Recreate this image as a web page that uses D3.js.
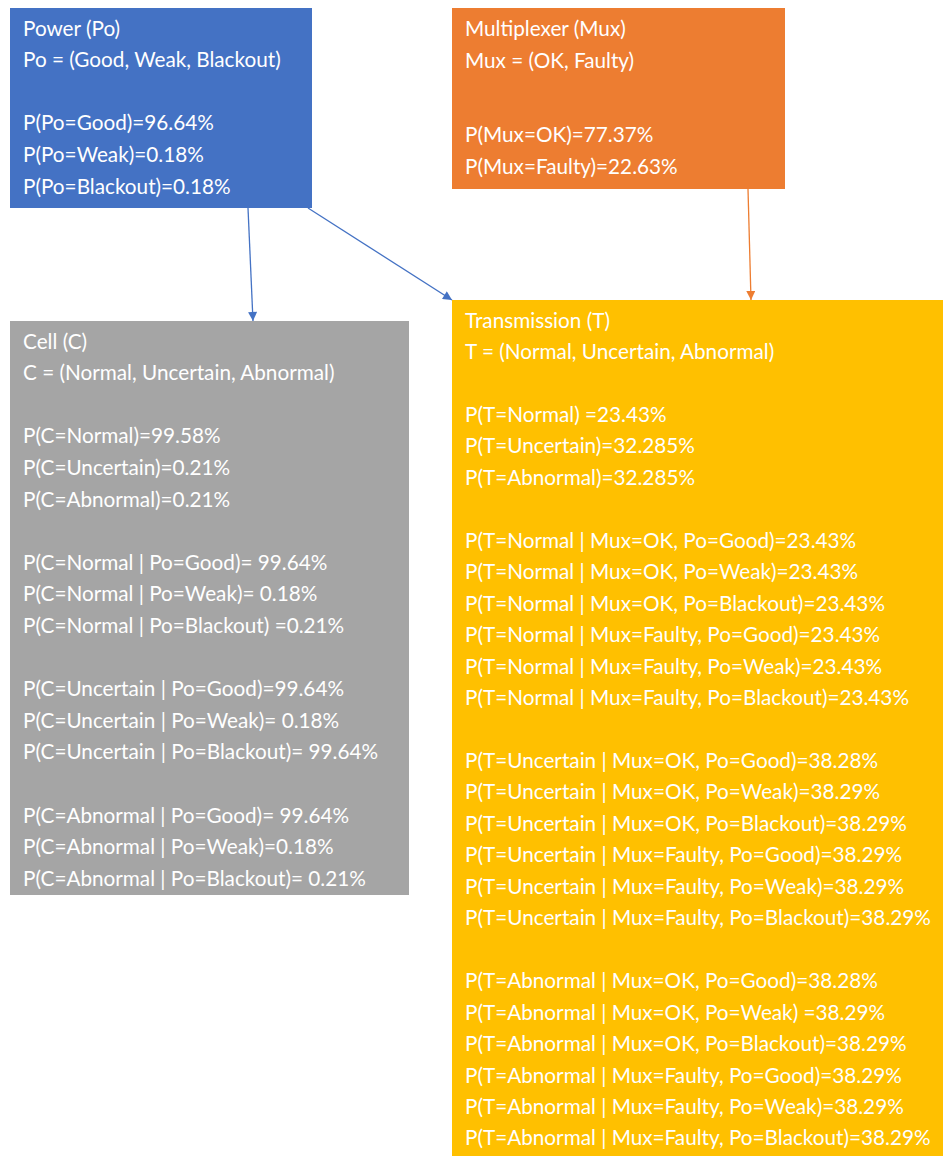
<!DOCTYPE html>
<html><head><meta charset="utf-8">
<script src="https://cdn.jsdelivr.net/npm/d3@7"></script>
<style>body{margin:0;background:#fff}svg{display:block}</style>
</head><body><svg id="c" width="943" height="1156"></svg>
<script>
// ---- data ----
const nodeIds = ["Po", "Mux", "C", "T"];
const nodeColors = ["#4472C4", "#ED7D31", "#A5A5A5", "#FFC000"];
const powerLines = [
  "Power (Po)", "Po = (Good, Weak, Blackout)", "",
  "P(Po=Good)=96.64%", "P(Po=Weak)=0.18%", "P(Po=Blackout)=0.18%"
];
const muxLines = [
  "Multiplexer (Mux)", "Mux = (OK, Faulty)", "",
  "P(Mux=OK)=77.37%", "P(Mux=Faulty)=22.63%"
];
const cellLines = [
  "Cell (C)", "C = (Normal, Uncertain, Abnormal)", "",
  "P(C=Normal)=99.58%", "P(C=Uncertain)=0.21%", "P(C=Abnormal)=0.21%", "",
  "P(C=Normal | Po=Good)= 99.64%", "P(C=Normal | Po=Weak)= 0.18%", "P(C=Normal | Po=Blackout) =0.21%", "",
  "P(C=Uncertain | Po=Good)=99.64%", "P(C=Uncertain | Po=Weak)= 0.18%", "P(C=Uncertain | Po=Blackout)= 99.64%", "",
  "P(C=Abnormal | Po=Good)= 99.64%", "P(C=Abnormal | Po=Weak)=0.18%", "P(C=Abnormal | Po=Blackout)= 0.21%"
];
const transLines = [
  "Transmission (T)", "T = (Normal, Uncertain, Abnormal)", "",
  "P(T=Normal) =23.43%", "P(T=Uncertain)=32.285%", "P(T=Abnormal)=32.285%", "",
  "P(T=Normal | Mux=OK, Po=Good)=23.43%", "P(T=Normal | Mux=OK, Po=Weak)=23.43%",
  "P(T=Normal | Mux=OK, Po=Blackout)=23.43%", "P(T=Normal | Mux=Faulty, Po=Good)=23.43%",
  "P(T=Normal | Mux=Faulty, Po=Weak)=23.43%", "P(T=Normal | Mux=Faulty, Po=Blackout)=23.43%", "",
  "P(T=Uncertain | Mux=OK, Po=Good)=38.28%", "P(T=Uncertain | Mux=OK, Po=Weak)=38.29%",
  "P(T=Uncertain | Mux=OK, Po=Blackout)=38.29%", "P(T=Uncertain | Mux=Faulty, Po=Good)=38.29%",
  "P(T=Uncertain | Mux=Faulty, Po=Weak)=38.29%", "P(T=Uncertain | Mux=Faulty, Po=Blackout)=38.29%", "",
  "P(T=Abnormal | Mux=OK, Po=Good)=38.28%", "P(T=Abnormal | Mux=OK, Po=Weak) =38.29%",
  "P(T=Abnormal | Mux=OK, Po=Blackout)=38.29%", "P(T=Abnormal | Mux=Faulty, Po=Good)=38.29%",
  "P(T=Abnormal | Mux=Faulty, Po=Weak)=38.29%", "P(T=Abnormal | Mux=Faulty, Po=Blackout)=38.29%"
];
const edgeFrom = ["Po", "Po", "Mux"];
const edgeTo = ["C", "T", "T"];

// ---- layout ----
const layout = {
  Po:  {x: 10,  y: 8,   w: 302, h: 200, blank: 31.6},
  Mux: {x: 452, y: 8,   w: 333, h: 181, blank: 42},
  C:   {x: 10,  y: 321, w: 399, h: 574, blank: 31.6},
  T:   {x: 452, y: 300, w: 500, h: 870, blank: 31.5}
};
const lineH = {Po: 31.6, Mux: 32, C: 31.6, T: 31.45};
const firstBase = 27.5;
const textPad = 13;
const edgeAnchors = [
  {sx: 248, ex: 253},   // Po -> C
  {sx: 308, ex: 452},   // Po -> T
  {sx: 748, ex: 751}    // Mux -> T
];
const linesById = {Po: powerLines, Mux: muxLines, C: cellLines, T: transLines};
const colorScale = d3.scaleOrdinal().domain(nodeIds).range(nodeColors);

const svg = d3.select("#c");
const FONT = "Lato, 'Open Sans', sans-serif";

// fit font size so the widest line matches reference width
const probe = svg.append("text").attr("font-family", FONT).attr("font-size", 20)
  .text("P(T=Abnormal | Mux=Faulty, Po=Blackout)=38.29%");
const pw = probe.node().getComputedTextLength();
probe.remove();
const fontSize = 20 * 466 / pw;

// defs markers
const defs = svg.append("defs");
edgeFrom.forEach((f, i) => {
  defs.append("marker").attr("id", "arr" + i)
    .attr("viewBox", "0 0 10 10").attr("refX", 10).attr("refY", 5)
    .attr("markerWidth", 10).attr("markerHeight", 9)
    .attr("markerUnits", "userSpaceOnUse").attr("orient", "auto")
    .append("path").attr("d", "M0,0L10,5L0,10Z").attr("fill", colorScale(f));
});

// boxes
const g = svg.selectAll("g.node").data(nodeIds).enter().append("g").attr("class", "node");
g.append("rect")
  .attr("x", d => layout[d].x).attr("y", d => layout[d].y)
  .attr("width", d => layout[d].w).attr("height", d => layout[d].h)
  .attr("fill", d => colorScale(d));

g.each(function(id) {
  const L = layout[id];
  const lines = linesById[id];
  let y = L.y + firstBase;
  const ys = [];
  lines.forEach((t, i) => {
    ys.push(y);
    y += (t === "" ? L.blank : lineH[id]);
  });
  d3.select(this).selectAll("text").data(lines.map((t, i) => ({t, y: ys[i]})).filter(d => d.t !== ""))
    .enter().append("text")
    .attr("x", L.x + textPad).attr("y", d => d.y)
    .attr("font-family", FONT).attr("font-size", fontSize)
    .attr("fill", "#ffffff")
    .text(d => d.t);
});

// edges
edgeFrom.forEach((f, i) => {
  const A = layout[f], B = layout[edgeTo[i]];
  svg.append("line")
    .attr("x1", edgeAnchors[i].sx).attr("y1", A.y + A.h)
    .attr("x2", edgeAnchors[i].ex).attr("y2", B.y)
    .attr("stroke", colorScale(f)).attr("stroke-width", 1.3)
    .attr("marker-end", "url(#arr" + i + ")");
});
</script></body></html>
